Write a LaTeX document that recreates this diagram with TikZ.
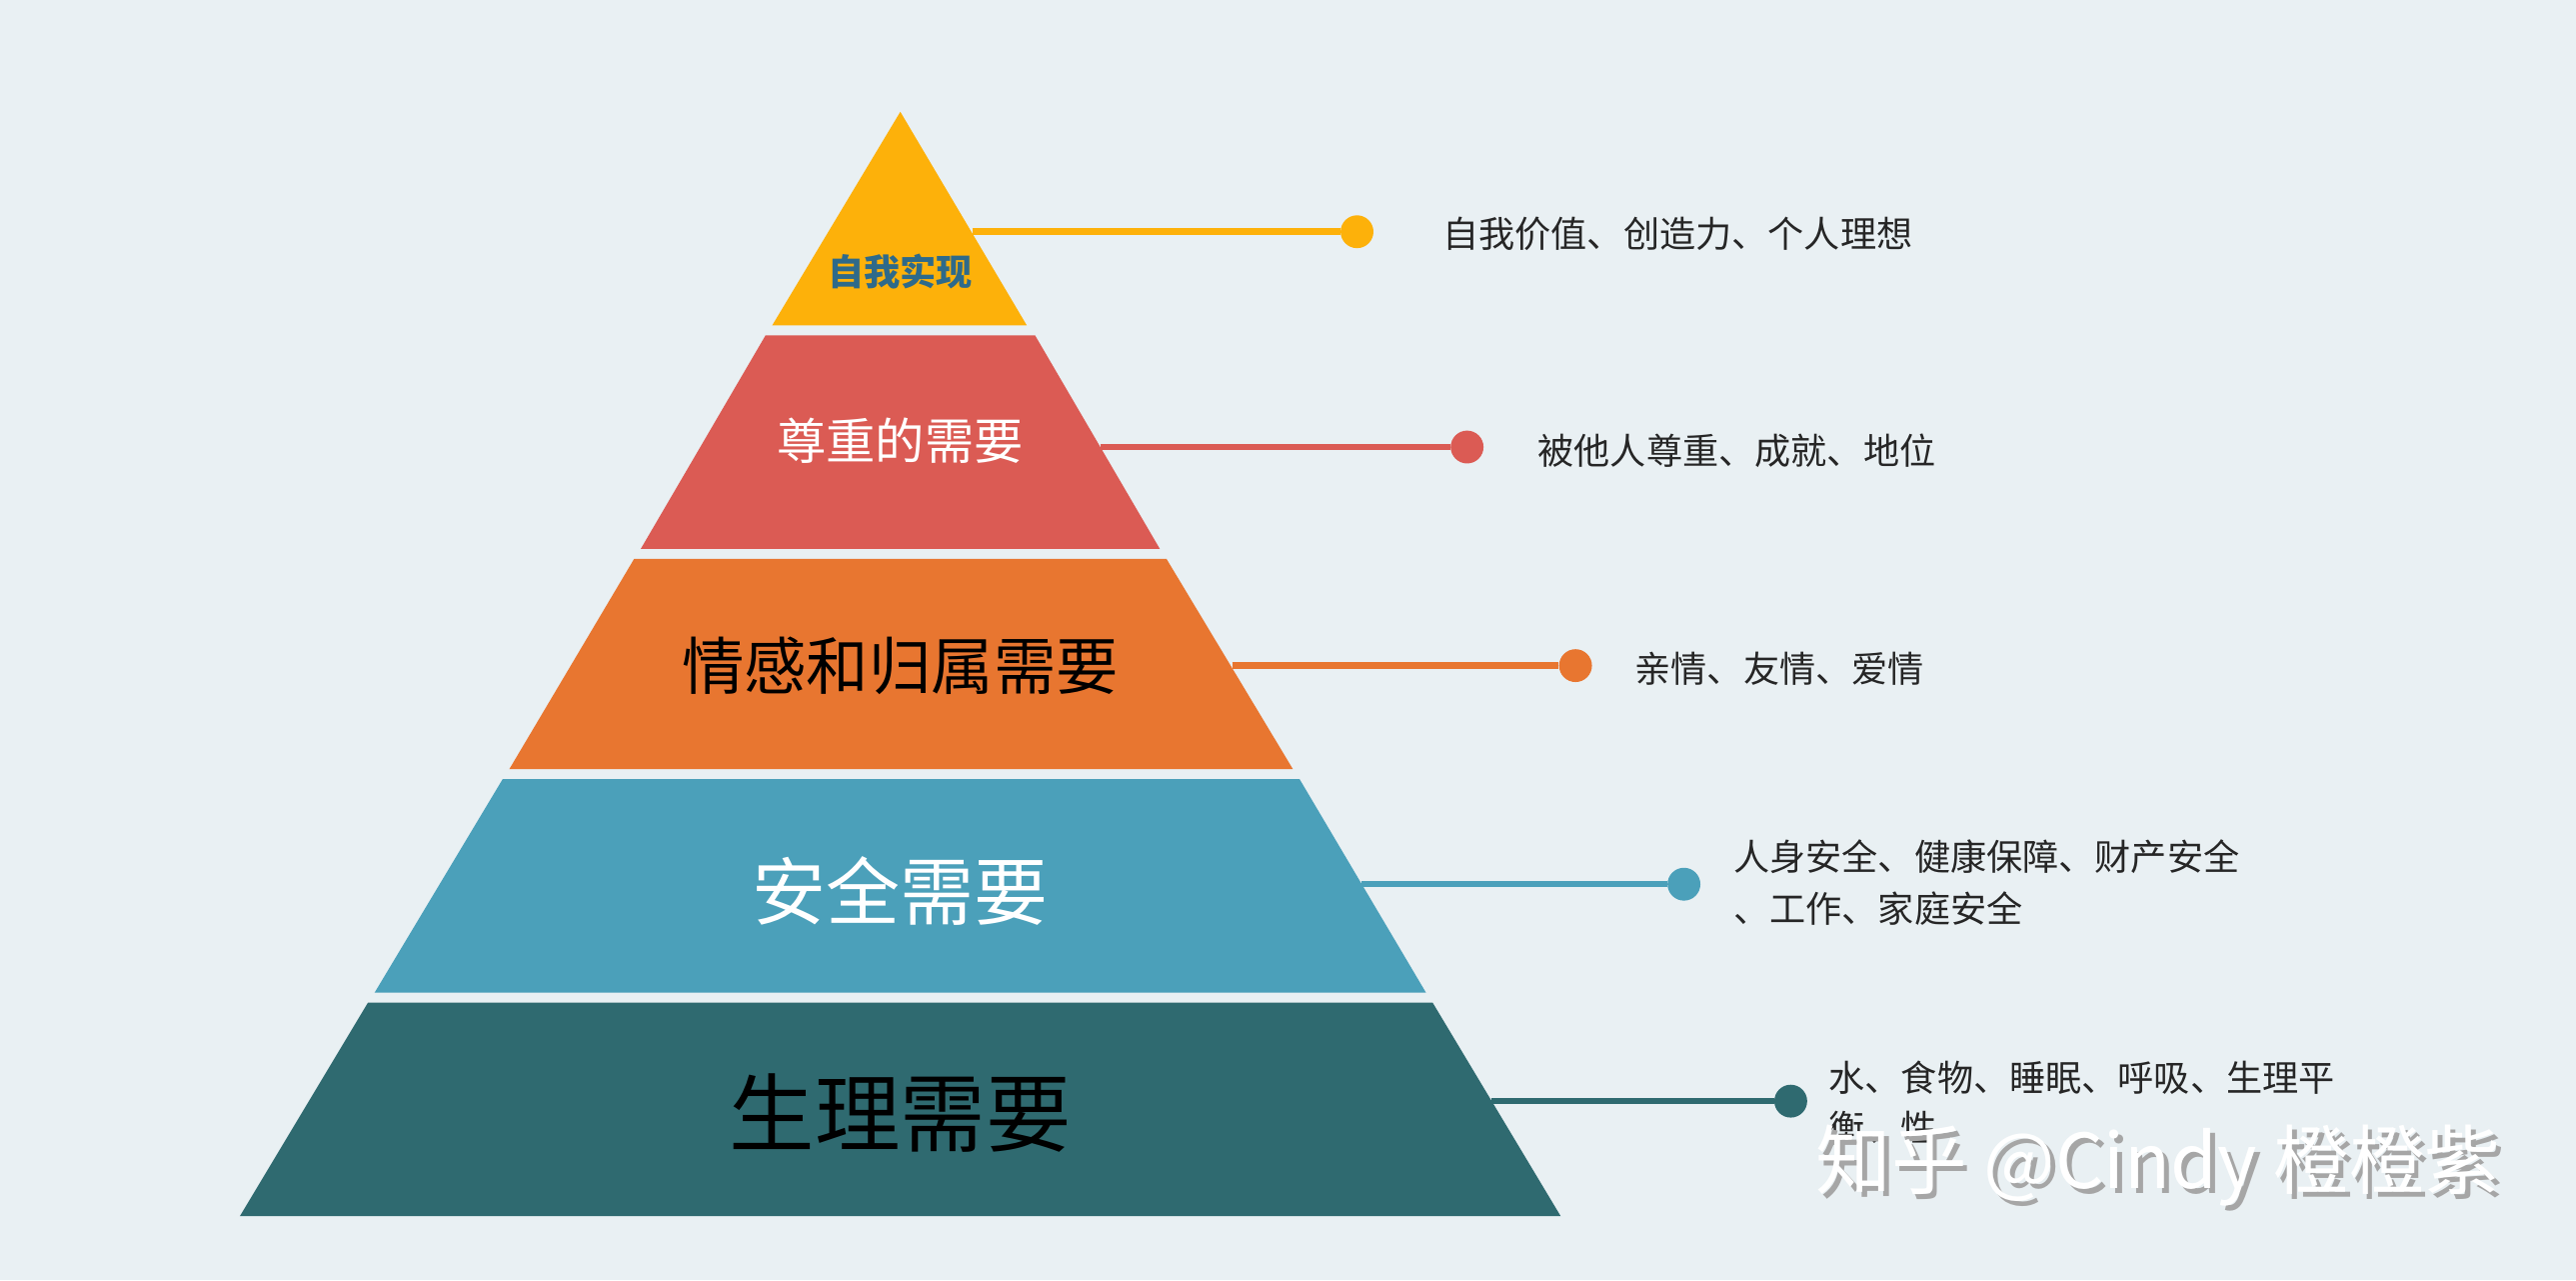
\documentclass[tikz,border=0pt]{standalone}
\usepackage{fontspec}
\setmainfont{Noto Sans CJK SC}
\definecolor{bg}{HTML}{E9F0F3}
\definecolor{cyel}{HTML}{FDB10A}
\definecolor{cred}{HTML}{DB5B54}
\definecolor{cora}{HTML}{E87630}
\definecolor{cblu}{HTML}{4BA0BA}
\definecolor{cdrk}{HTML}{2F6A70}
\definecolor{ctxt}{HTML}{2E6A8A}
\begin{document}
\begin{tikzpicture}[x=1pt,y=-1pt]
	\tikzset{dot/.style={circle,inner sep=0pt,minimum size=20pt},
		link/.style={line width=4pt},
		note/.style={anchor=west,inner sep=0pt,font=\fontsize{22}{30}\selectfont,text=black!85},
		lvl/.style={inner sep=0pt}}
	\fill [bg] (0,0) rectangle (1568,779);
	\useasboundingbox (0,0) rectangle (1568,779);
	% layers
	\fill [cyel] (548,68) -- (625,198) -- (470,198) -- cycle;
	\fill [cred] (466,204) -- (630,204) -- (706,334) -- (390,334) -- cycle;
	\fill [cora] (386,340) -- (710,340) -- (787,468) -- (310,468) -- cycle;
	\fill [cblu] (306,474) -- (791,474) -- (868,604) -- (228,604) -- cycle;
	\fill [cdrk] (224,610) -- (872,610) -- (950,740) -- (146,740) -- cycle;
	\node [lvl,text=ctxt,font=\fontsize{22}{22}\selectfont\bfseries] (l1) at (548,165) {自我实现};
	\node [lvl,text=white,font=\fontsize{30}{30}\selectfont] (l2) at (548,268) {尊重的需要};
	\node [lvl,text=black,font=\fontsize{38}{38}\selectfont] (l3) at (548,405) {情感和归属需要};
	\node [lvl,text=white,font=\fontsize{45}{45}\selectfont] (l4) at (548,542) {安全需要};
	\node [lvl,text=black,font=\fontsize{52}{52}\selectfont] (l5) at (548,677) {生理需要};
	% connectors
	\coordinate (e1) at (592,141);
	\coordinate (e2) at (670,272);
	\coordinate (e3) at (750,405);
	\coordinate (e4) at (829,538);
	\coordinate (e5) at (908,670);
	\node [dot,fill=cyel] (d1) at (826,141) {};
	\node [dot,fill=cred] (d2) at (893,272) {};
	\node [dot,fill=cora] (d3) at (959,405) {};
	\node [dot,fill=cblu] (d4) at (1025,538) {};
	\node [dot,fill=cdrk] (d5) at (1090,670) {};
	\draw [link,cyel] (e1) -- (d1);
	\draw [link,cred] (e2) -- (d2);
	\draw [link,cora] (e3) -- (d3);
	\draw [link,cblu] (e4) -- (d4);
	\draw [link,cdrk] (e5) -- (d5);
	% notes
	\node [note] (n1) at (878,142) {自我价值、创造力、个人理想};
	\node [note] (n2) at (936,274) {被他人尊重、成就、地位};
	\node [note] (n3) at (995,407) {亲情、友情、爱情};
	\node [note] (n4) at (1055,521) {人身安全、健康保障、财产安全};
	\node [note] (n4b) at (1055,553) {、工作、家庭安全};
	\node [note] (n5) at (1113,656) {水、食物、睡眠、呼吸、生理平};
	\node [note] (n5b) at (1113,686) {衡、性};
	% watermark
	\node [note,text=gray!70,font=\fontsize{46}{46}\selectfont] at (1108,712) {知乎 @Cindy 橙橙紫};
	\node [note,text=white,font=\fontsize{46}{46}\selectfont] (wm) at (1105,709) {知乎 @Cindy 橙橙紫};
\end{tikzpicture}
\end{document}
